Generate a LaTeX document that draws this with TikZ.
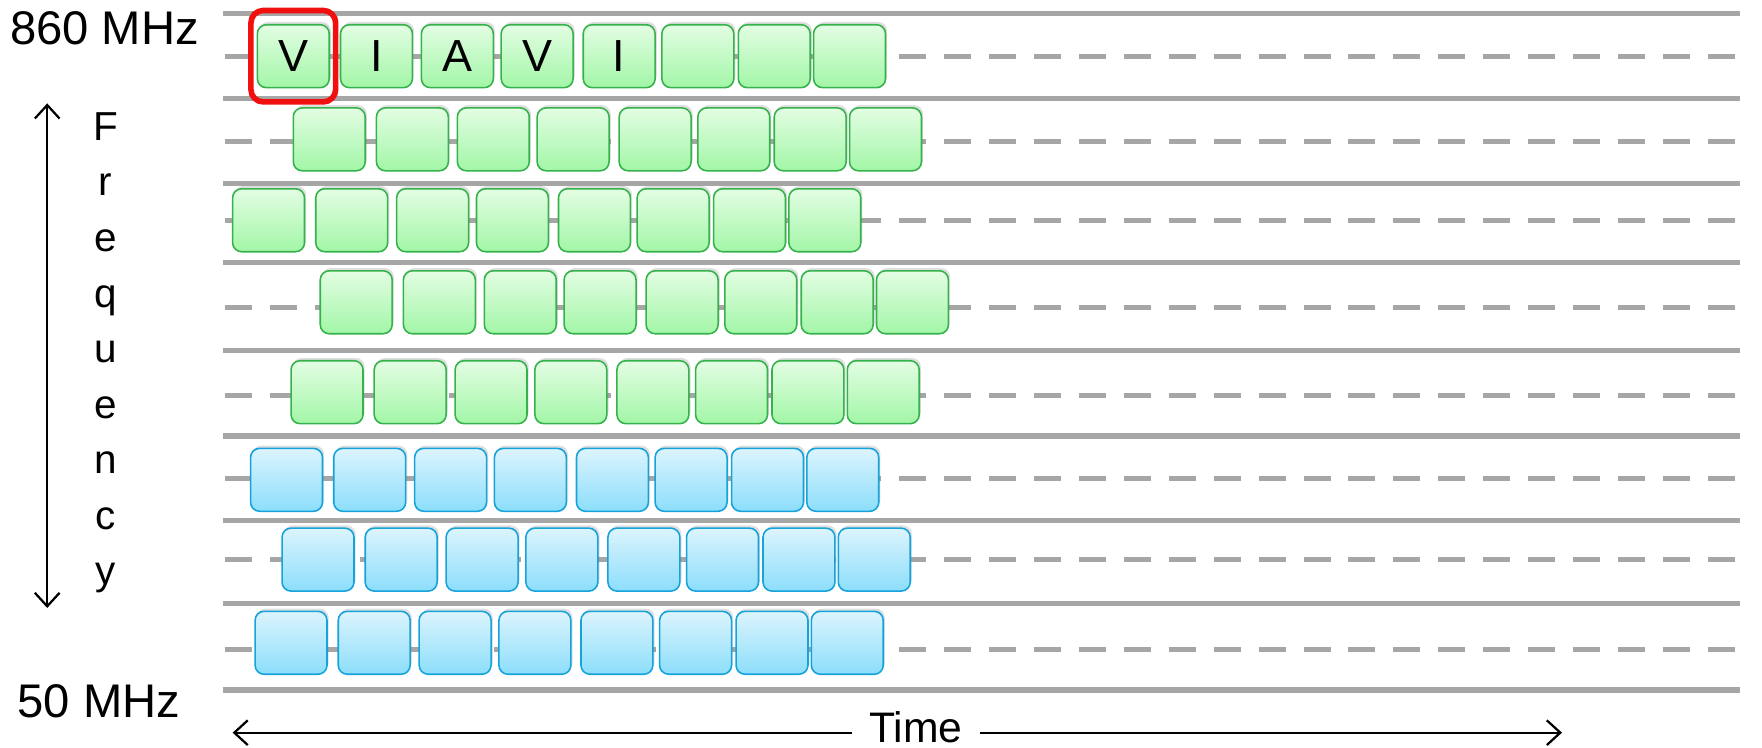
\documentclass[tikz,border=0pt]{standalone}
\usepackage{fontspec}
\setmainfont{Liberation Sans}
\usetikzlibrary{shadows,fit,arrows.meta}
\definecolor{lanegray}{HTML}{A6A6A6}
\definecolor{gborder}{HTML}{35B24B}
\definecolor{gtop}{HTML}{E3FDE3}
\definecolor{gbot}{HTML}{A2F6A7}
\definecolor{bborder}{HTML}{16A2DA}
\definecolor{btop}{HTML}{DCF4FD}
\definecolor{bbot}{HTML}{8CDEFB}
\definecolor{selred}{HTML}{F01010}
\tikzset{
  solidlane/.style={draw=lanegray, line width=4.5},
  dashlane/.style={draw=lanegray, line width=4.5, dash pattern=on 24 off 16},
  slotbox/.style={rounded corners=8, minimum width=64, minimum height=56, inner sep=0,
    line width=1.4, drop shadow={shadow xshift=1.5, shadow yshift=-2.5, opacity=0.25}},
  gbox/.style={slotbox, draw=gborder, top color=gtop, bottom color=gbot},
  bbox/.style={slotbox, draw=bborder, top color=btop, bottom color=bbot},
  boxletter/.style={font=\fontsize{40}{44}\selectfont, inner sep=0},
  bigtxt/.style={font=\fontsize{42}{48}\selectfont, inner sep=0},
  freqtxt/.style={font=\fontsize{36}{40}\selectfont, inner sep=0},
  axarrow/.style={line width=2, {Straight Barb[length=12, width=22]}-{Straight Barb[length=12, width=22]}},
  onearrow/.style={line width=2, -{Straight Barb[length=12, width=22]}}
}
\begin{document}
\begin{tikzpicture}[x=1pt,y=-1pt]
\useasboundingbox (0,0) rectangle (1568,665);
% lane separators
\foreach \y in {12,88,163,234,312,388,463,537,614}
  \draw[solidlane] (198,\y) -- (1548,\y);
% lane centre lines
\foreach \y in {50,126,196,274,352,426,498,578}
  \draw[dashlane] (200,\y) -- (1548,\y);
% boxes
\foreach \r/\y/\x/\st in {1/50/228/gbox,2/124/260/gbox,3/196/206/gbox,4/269/284/gbox,5/349/258/gbox,6/427/222/bbox,7/498/250/bbox,8/572/226/bbox}{
  \foreach \o [count=\i] in {0,74,146,217,290,360,428,495}
    \node[\st] (b\r-\i) at ({\x+\o+33},\y) {};
}
\node[boxletter] (l1) at (b1-1) {V};
\node[boxletter] (l2) at (b1-2) {I};
\node[boxletter] (l3) at (b1-3) {A};
\node[boxletter] (l4) at (b1-4) {V};
\node[boxletter] (l5) at (b1-5) {I};
% selection
\node[draw=selred, line width=5, rounded corners=11, inner xsep=5, inner ysep=12, fit=(b1-1)] (sel) {};
% labels
\node[bigtxt] (top) at (93,25) {860 MHz};
\node[bigtxt] (bot) at (88,624) {50 MHz};
% frequency axis
\foreach \ch [count=\k] in {F,r,e,q,u,e,n,c,y}
  \node[freqtxt, anchor=base] (f\k) at (94,{125+49.4*(\k-1)}) {\ch};
\coordinate (fup) at (42,92);
\coordinate (fdown) at (42,541);
\draw[axarrow] (fup) -- (fdown);
% time axis
\node[font=\fontsize{38}{42}\selectfont, inner sep=0, anchor=base] (time) at (815,661) {Time};
\coordinate (tleft) at (207,652);
\coordinate (tright) at (1390,652);
\draw[onearrow] ([xshift=-15]time.west |- tleft) -- (tleft);
\draw[onearrow] ([xshift=15]time.east |- tright) -- (tright);
\end{tikzpicture}
\end{document}
